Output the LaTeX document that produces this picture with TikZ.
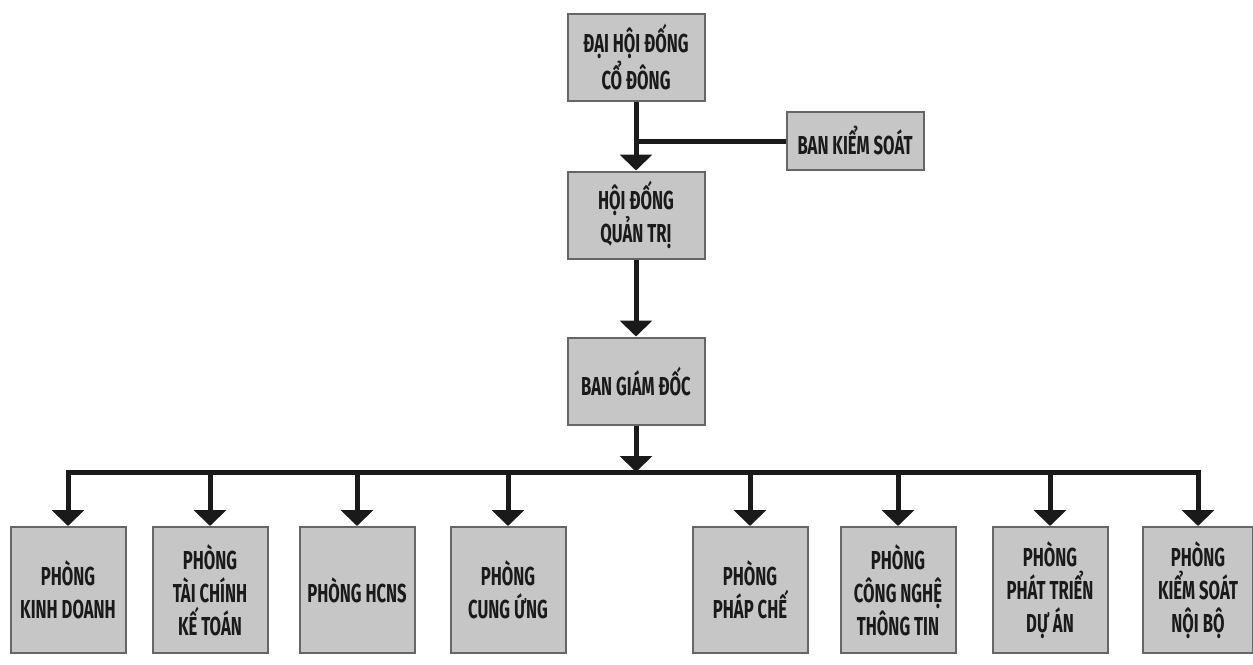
\documentclass[tikz,border=0pt]{standalone}
\usepackage{fontspec}
\setmainfont[FakeStretch=0.64]{Fira Sans}
\usetikzlibrary{arrows.meta}
\definecolor{boxfill}{HTML}{C6C6C6}
\definecolor{boxedge}{HTML}{666666}
\definecolor{ink}{HTML}{1A1A1A}
\begin{document}
\begin{tikzpicture}[x=0.5pt,y=-0.5pt,
  box/.style={draw=boxedge, line width=1pt, fill=boxfill, text=ink, align=center,
    font=\fontsize{13}{16.5}\selectfont\bfseries, inner sep=0pt},
  topbox/.style={box, minimum width=68.5pt, minimum height=43.5pt},
  deptbox/.style={box, minimum width=57.5pt, minimum height=63pt},
  conn/.style={draw=ink, line width=2.5pt},
  arr/.style={conn, -{Triangle[width=16pt,length=8pt]}}]
\useasboundingbox (0,0) rectangle (1253,664);
% top chain
\node[topbox] (dh) at (636,57) {ĐẠI HỘI ĐỐNG\\CỔ ĐÔNG};
\node[topbox, minimum height=29pt] (bks) at (855,141) {BAN KIỂM SOÁT};
\node[topbox] (hd) at (636,215) {HỘI ĐỐNG\\QUẢN TRỊ};
\node[topbox] (bgd) at (636,381) {BAN GIÁM ĐỐC};
\draw[arr] (dh.south) -- (hd.north);
\draw[conn] (bks.west) -- (bks.west -| dh.south);
\draw[arr] (hd.south) -- (bgd.north);
% departments
\coordinate (bus) at (636,472);
\node[deptbox] (p1) at (68,590) {PHÒNG\\KINH DOANH};
\node[deptbox] (p2) at (210,590) {PHÒNG\\TÀI CHÍNH\\KẾ TOÁN};
\node[deptbox] (p3) at (357,590) {PHÒNG HCNS};
\node[deptbox] (p4) at (508,590) {PHÒNG\\CUNG ỨNG};
\node[deptbox] (p5) at (750,590) {PHÒNG\\PHÁP CHẾ};
\node[deptbox] (p6) at (898,590) {PHÒNG\\CÔNG NGHỆ\\THÔNG TIN};
\node[deptbox] (p7) at (1050,590) {PHÒNG\\PHÁT TRIỂN\\DỰ ÁN};
\node[deptbox, minimum width=55pt] (p8) at (1198,590) {PHÒNG\\KIỂM SOÁT\\NỘI BỘ};
\draw[arr] (bgd.south) -- (bus);
\draw[conn, line cap=rect] (p1.north |- bus) -- (p8.north |- bus);
\foreach \p in {p1,p2,p3,p4,p5,p6,p7,p8}
  \draw[arr] (\p.north |- bus) -- (\p.north);
\end{tikzpicture}
\end{document}
